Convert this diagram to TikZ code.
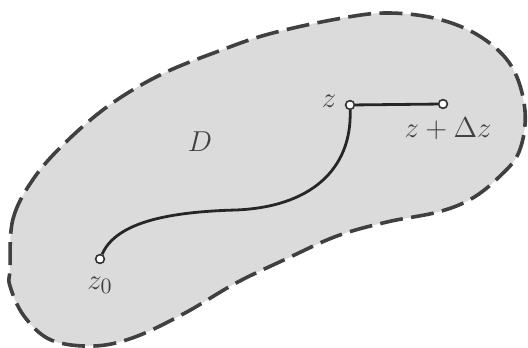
\documentclass[tikz,border=0pt]{standalone}
\begin{document}
\begin{tikzpicture}[x=0.5pt,y=-0.5pt,
  pt/.style={circle,draw=black!80,fill=white,line width=0.8pt,inner sep=0pt,minimum size=4.4pt},
  lbl/.style={text=black!75,font=\fontsize{15}{17}\selectfont},
  region/.style={draw=black!75,fill=black!14,line width=1.8pt,dash pattern=on 11.5pt off 4.2pt},
  path/.style={draw=black!85,line width=1.4pt}]
\useasboundingbox[fill=white] (0,0) rectangle (528,347);
\path[region] plot[smooth cycle,tension=0.6] coordinates {
 (10,269) (13,219) (34,178) (67,141) (111,104) (162,74) (219,51) (269,34)
 (337,19) (387,13) (438,19) (481,37) (512,67) (525,111) (519,152) (498,178)
 (471,199) (438,212) (387,222) (337,236) (286,259) (236,283) (185,313)
 (135,337) (94,346) (51,340) (24,316) (10,286)};
\coordinate (m) at (236,210);
\node[pt] (z0) at (100,259) {};
\node[pt] (z) at (350,105) {};
\node[pt] (zd) at (443,104) {};
\draw[path] (z0) .. controls (115,225) and (160,212) .. (m)
  .. controls (310,207) and (352,170) .. (z);
\draw[path] (z) -- (zd);
\node[lbl] (lz) at (329,101) {$z$};
\node[lbl] (lzd) at (448,129) {$z+\Delta z$};
\node[lbl] (lD) at (200,142) {$D$};
\node[lbl] (lz0) at (100,285) {$z_0$};
\end{tikzpicture}
\end{document}
